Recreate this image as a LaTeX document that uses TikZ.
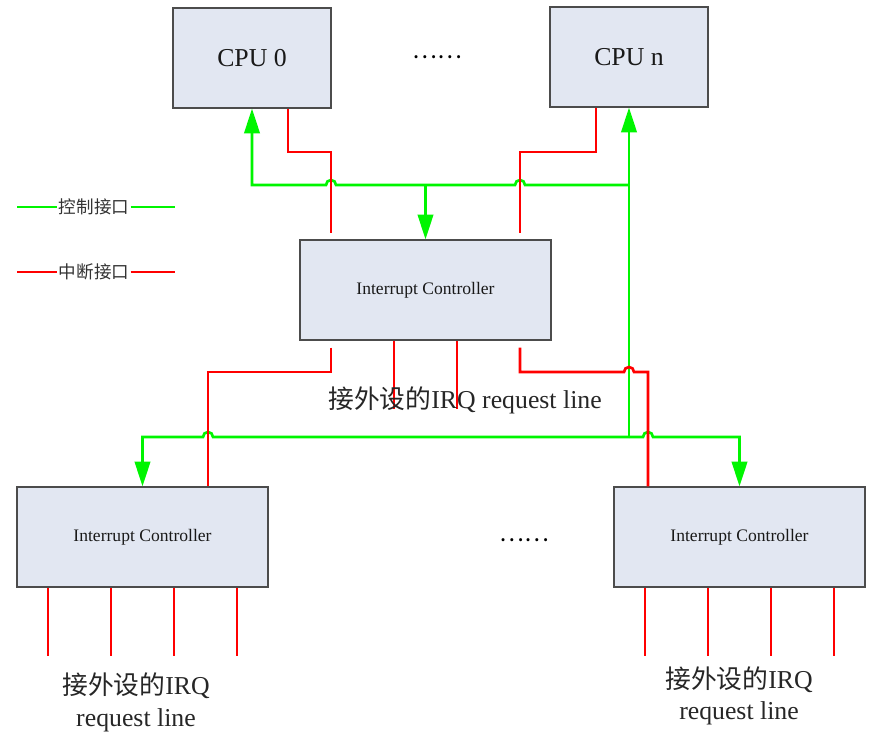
\documentclass[tikz,border=0pt]{standalone}
\usepackage{fontspec}
\setmainfont{Liberation Serif}
\newfontfamily\cjk{Noto Sans CJK SC}
\usetikzlibrary{arrows.meta}

\begin{document}
\begin{tikzpicture}[x=0.03cm, y=-0.03cm,
  box/.style={draw=black!70, line width=1pt, fill={rgb,255:red,226;green,231;blue,242}, inner sep=0pt, text=black!90},
  cpubox/.style={box, minimum width=4.74cm, minimum height=3cm, font=\fontsize{22}{26}\selectfont},
  icbox/.style={box, minimum width=7.53cm, minimum height=3cm, font=\fontsize{15}{18}\selectfont},
  ctrl/.style={draw={rgb,255:red,0;green,245;blue,0}, line width=2.3pt},
  irq/.style={draw=red, line width=2.3pt},
  tip/.style={-{Triangle[length=0.74cm, width=0.46cm]}},
  big/.style={font=\fontsize{22}{26}\selectfont, text=black!85, inner sep=1pt},
  small/.style={font=\cjk\fontsize{15}{18}\selectfont, text=black!80, inner sep=1pt},
  etc/.style={font=\cjk\fontsize{20}{24}\selectfont}]
\useasboundingbox (0,0) rectangle (879,740);

% processors and controllers
\node [cpubox] (cpu0) at (252,58) {CPU 0};
\node [etc] (dots1) at (437,57) {……};
\node [cpubox] (cpun) at (629,57) {CPU n};
\node [icbox] (mid) at (425.5,290) {Interrupt Controller};
\node [icbox] (bl) at (142.5,537) {Interrupt Controller};
\node [etc] (dots2) at (524,540) {……};
\node [icbox] (br) at (739.5,537) {Interrupt Controller};

% legend
\node [small] (ctrllab) at (94,207) {控制接口};
\draw [ctrl] (17,207) -- (ctrllab) -- (175,207);
\node [small] (irqlab) at (94,272) {中断接口};
\draw [irq] (17,272) -- (irqlab) -- (175,272);

% control lines
\coordinate (jt) at (629,185);
\coordinate (jb) at (629,437);
\draw [ctrl, tip] (jb) -- (cpun.south);
\draw [ctrl, tip] (jt) -- (525,185) arc [start angle=0, end angle=180, radius=0.15cm]
  -- (336,185) arc [start angle=0, end angle=180, radius=0.15cm]
  -- (cpu0.south |- jt) -- (cpu0.south);
\draw [ctrl, tip] (mid.north |- jt) -- (mid.north);
\draw [ctrl, tip] (jb) -- (213,437) arc [start angle=0, end angle=180, radius=0.15cm]
  -- (bl.north |- jb) -- (bl.north);
\draw [ctrl, tip] (jb) -- (643,437) arc [start angle=180, end angle=0, radius=0.15cm]
  -- (br.north |- jb) -- (br.north);

% interrupt lines
\draw [irq, shorten >=0.18cm] (cpu0.south -| 288,0) |- (331,152) -- (mid.north -| 331,0);
\draw [irq, shorten >=0.18cm] (cpun.south -| 596,0) |- (520,152) -- (mid.north -| 520,0);
\draw [irq, shorten <=0.21cm] (mid.south -| 331,0) |- (208,372) -- (bl.north -| 208,0);
\draw [irq, shorten <=0.21cm] (mid.south -| 520,0) |- (624,372)
  arc [start angle=180, end angle=0, radius=0.15cm] -- (648,372) -- (br.north -| 648,0);

\foreach \x in {394,457}
  \draw [irq] (mid.south -| \x,0) -- (\x,409);
\foreach \x in {48,111,174,237}
  \draw [irq] (bl.south -| \x,0) -- (\x,656);
\foreach \x in {645,708,771,834}
  \draw [irq] (br.south -| \x,0) -- (\x,656);

\node [big] (midin) at (465,400) {{\cjk 接外设的}IRQ request line};
\node [big] (blin) at (136,686) {{\cjk 接外设的}IRQ};
\node [big] (blin2) at (136,720) {request line};
\node [big] (brin) at (739,680) {{\cjk 接外设的}IRQ};
\node [big] (brin2) at (739,713) {request line};
\end{tikzpicture}
\end{document}
